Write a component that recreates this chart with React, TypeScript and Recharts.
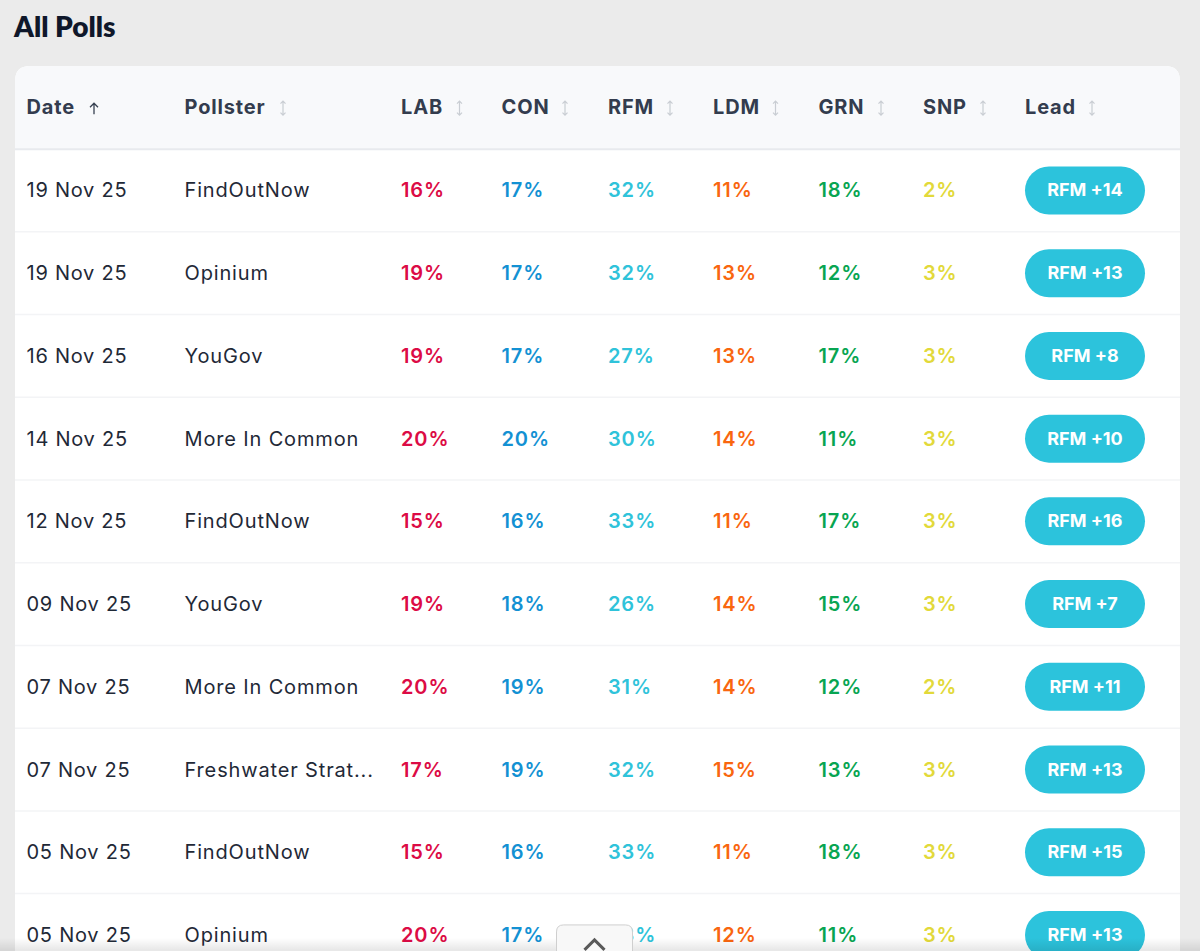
import React from "react";
import { ScatterChart, Scatter, XAxis, YAxis, ReferenceArea, ReferenceLine } from "recharts";

const dates = ["19 Nov 25","19 Nov 25","16 Nov 25","14 Nov 25","12 Nov 25","09 Nov 25","07 Nov 25","07 Nov 25","05 Nov 25","05 Nov 25"];
const pollsters = ["FindOutNow","Opinium","YouGov","More In Common","FindOutNow","YouGov","More In Common","Freshwater Strat...","FindOutNow","Opinium"];
const lab = [16,19,19,20,15,19,20,17,15,20];
const con = [17,17,17,20,16,18,19,19,16,17];
const rfm = [32,32,27,30,33,26,31,32,33,33];
const ldm = [11,13,13,14,11,14,14,15,11,12];
const grn = [18,12,17,11,17,15,12,13,18,11];
const snp = [2,3,3,3,3,3,2,3,3,3];
const leads = ["RFM +14","RFM +13","RFM +8","RFM +10","RFM +16","RFM +7","RFM +11","RFM +13","RFM +15","RFM +13"];
const headers = ["Date","Pollster","LAB","CON","RFM","LDM","GRN","SNP","Lead"];

// layout
const W = 1200, H = 951;
const columnX = [26.5,184.5,401,501.5,608,713,818.5,923,1025];
const iconX = [94,283,459.5,565,670,775.5,881,983,1092];
const pillCenter = 1085;
const FONT = "Inter, sans-serif";
const parties = [
  { values: lab, col: 2, color: "#dc0b45" },
  { values: con, col: 3, color: "#1391d3" },
  { values: rfm, col: 4, color: "#2fc3da" },
  { values: ldm, col: 5, color: "#f9660f" },
  { values: grn, col: 6, color: "#08a552" },
  { values: snp, col: 7, color: "#e2d93a" },
];

const rowsOf = (col: number, labels: (string|number)[], suffix = "") =>
  labels.map((v, i) => ({ x: columnX[col], y: i, label: `${v}${suffix}` }));

const TextCell = (fill: string, weight: number, spacing = 1) => (p: any) => (
  <text x={p.cx} y={p.cy + 7} fill={fill} fontFamily={FONT} fontSize={20} fontWeight={weight} letterSpacing={spacing}>
    {p.payload.label}
  </text>
);

const Pill = (p: any) => (
  <g>
    <rect x={p.cx - 60} y={p.cy - 24} width={120} height={48} rx={24} fill="#2cc3dc" />
    <text x={p.cx} y={p.cy + 6} fill="#fff" textAnchor="middle" fontFamily={FONT} fontSize={18} fontWeight={700}>
      {p.payload.label}
    </text>
  </g>
);

const SortIcon = (p: any) => {
  const { cx, cy } = p;
  const active = p.payload.active;
  if (active) {
    return <path d={`M${cx} ${cy + 6}V${cy - 5}M${cx - 4} ${cy - 1}L${cx} ${cy - 5}L${cx + 4} ${cy - 1}`} fill="none" stroke="#374151" strokeWidth={1.3} />;
  }
  return <path d={`M${cx} ${cy - 7}V${cy + 7}M${cx - 2.5} ${cy - 4.5}L${cx} ${cy - 7}L${cx + 2.5} ${cy - 4.5}M${cx - 2.5} ${cy + 4.5}L${cx} ${cy + 7}L${cx + 2.5} ${cy + 4.5}`} fill="none" stroke="#c9cdd3" strokeWidth={1.2} />;
};

const TopRounded = (fill: string) => (p: any) => {
  const r = 15;
  const { x, y, width: w, height: h } = p;
  return <path d={`M${x} ${y + h}V${y + r}Q${x} ${y} ${x + r} ${y}H${x + w - r}Q${x + w} ${y} ${x + w} ${y + r}V${y + h}Z`} fill={fill} />;
};

const Title = (p: any) => (
  <text x={p.cx} y={p.cy + 9} fill="#0f172a" fontFamily="Lato, sans-serif" fontSize={28} fontWeight={800}>{p.payload.label}</text>
);

const BackToTop = (p: any) => {
  const { cx, cy } = p;
  return (
    <g>
      <defs>
        <linearGradient id="fade" x1="0" y1="0" x2="0" y2="1">
          <stop offset="0" stopColor="#000" stopOpacity={0} />
          <stop offset="1" stopColor="#000" stopOpacity={0.1} />
        </linearGradient>
      </defs>
      <rect x={0} y={cy} width={W} height={13} fill="url(#fade)" />
      <path d={`M${cx - 38} ${cy + 20}V${cy - 6}Q${cx - 38} ${cy - 13} ${cx - 31} ${cy - 13}H${cx + 31}Q${cx + 38} ${cy - 13} ${cx + 38} ${cy - 6}V${cy + 20}`} fill="#f8f8f8" stroke="#cfcfcf" strokeWidth={1} />
      <path d={`M${cx - 10} ${cy + 12}L${cx} ${cy + 2}L${cx + 10} ${cy + 12}`} fill="none" stroke="#5a5a5a" strokeWidth={3} />
    </g>
  );
};

const titleData = [{ x: 14, y: -1.965, label: "All Polls" }];
const headerData = headers.map((h, i) => ({ x: columnX[i], y: -1.012, label: h }));
const iconData = iconX.map((x, i) => ({ x, y: -0.995, active: i === 0 }));
const pillData = leads.map((l, i) => ({ x: pillCenter, y: i, label: l }));
const buttonData = [{ x: 594.5, y: 9.036 }];
const separators = [0.5,1.5,2.5,3.5,4.5,5.5,6.5,7.5,8.5];

export default function App() {
  return (
    <div style={{ position: "absolute", left: 0, top: 0, width: W, height: H, background: "#ebebeb", overflow: "hidden" }}>
      <ScatterChart width={W} height={H} margin={{ top: 0, right: 0, bottom: 0, left: 0 }}>
        <XAxis type="number" dataKey="x" domain={[0, W]} hide allowDataOverflow />
        <YAxis type="number" dataKey="y" domain={[-2.303, 9.194]} reversed hide allowDataOverflow width={0} />
        <ReferenceArea x1={15} x2={1180} y1={-1.505} y2={9.194} shape={TopRounded("#ffffff")} ifOverflow="visible" />
        <ReferenceArea x1={15} x2={1180} y1={-1.505} y2={-0.5} shape={TopRounded("#f8f9fb")} ifOverflow="visible" />
        <ReferenceLine segment={[{ x: 15, y: -0.5 }, { x: 1180, y: -0.5 }]} stroke="#e8eaee" strokeWidth={2} />
        {separators.map((s) => (
          <ReferenceLine key={s} segment={[{ x: 15, y: s }, { x: 1180, y: s }]} stroke="#f3f4f6" strokeWidth={1.5} />
        ))}
        <Scatter name="title" data={titleData} shape={Title} isAnimationActive={false} />
        <Scatter name="headers" data={headerData} shape={TextCell("#333c4e", 700, 0.85)} isAnimationActive={false} />
        <Scatter name="sort" data={iconData} shape={SortIcon} isAnimationActive={false} />
        <Scatter name="date" data={rowsOf(0, dates)} shape={TextCell("#1f2937", 400, 0.75)} isAnimationActive={false} />
        <Scatter name="pollster" data={rowsOf(1, pollsters)} shape={TextCell("#1f2937", 400, 0.85)} isAnimationActive={false} />
        {parties.map((pt) => (
          <Scatter key={pt.col} name={headers[pt.col]} data={rowsOf(pt.col, pt.values, "%")} shape={TextCell(pt.color, 600, 0.9)} isAnimationActive={false} />
        ))}
        <Scatter name="lead" data={pillData} shape={Pill} isAnimationActive={false} />
        <Scatter name="button" data={buttonData} shape={BackToTop} isAnimationActive={false} />
      </ScatterChart>
    </div>
  );
}
